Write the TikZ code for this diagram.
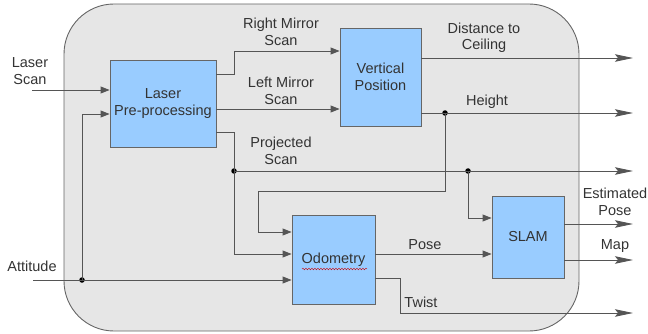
\documentclass[tikz,border=0pt]{standalone}
\usepackage{fontspec}
\setmainfont{Liberation Sans}
\usetikzlibrary{arrows.meta,decorations.pathmorphing}
\definecolor{boxfill}{HTML}{99CCFF}
\definecolor{boxline}{HTML}{666666}
\definecolor{bgfill}{HTML}{E6E6E6}
\definecolor{wire}{HTML}{555555}
\definecolor{txt}{HTML}{333333}
\tikzset{
  blk/.style={draw=boxline, fill=boxfill, line width=0.9pt, align=center, text=txt, font=\fontsize{14.5}{16.5}\selectfont, inner sep=0pt},
  lbl/.style={align=center, text=txt, font=\fontsize{14.5}{16.5}\selectfont, inner sep=0pt},
  wr/.style={draw=wire, line width=0.9pt},
  arr/.style={wr, -{Triangle[length=9pt,width=7pt]}},
  outarr/.style={wr, -{Stealth[length=18pt,width=7.5pt,inset=3pt]}},
  dot/.style={circle, fill=black, inner sep=0pt, minimum size=5.5pt}
}
\begin{document}
\begin{tikzpicture}[x=1pt,y=-1pt]
\useasboundingbox (0,0) rectangle (648,334);
\node[draw=boxline, fill=bgfill, line width=0.9pt, rounded corners=50pt, minimum width=515pt, minimum height=327pt, inner sep=0pt] (bg) at (321.5,167.5) {};

\node[blk, minimum width=106pt, minimum height=87pt] (lp) at (163,103.5) {Laser\\Pre-processing};
\node[blk, minimum width=81pt, minimum height=98pt] (vp) at (380.5,77) {Vertical\\Position};
\node[blk, minimum width=83pt, minimum height=89pt] (odo) at (333.5,259.5) {Odometry};
\node[blk, minimum width=72pt, minimum height=82pt] (slam) at (528,237) {SLAM};
\draw[red!80!black, line width=0.4pt, decorate, decoration={snake, amplitude=0.8pt, segment length=3pt}] (302,269) -- (367,269);

% labels
\node[lbl] (tls) at (30,71) {Laser\\Scan};
\node[lbl] (tatt) at (32,266) {Attitude};
\node[lbl] (trm) at (281,32) {Right Mirror\\Scan};
\node[lbl] (tlm) at (281,91) {Left Mirror\\Scan};
\node[lbl] (tps) at (281,151) {Projected\\Scan};
\node[lbl] (tdc) at (484,38) {Distance to\\Ceiling};
\node[lbl] (th) at (487,102) {Height};
\node[lbl] (tep) at (615,202) {Estimated\\Pose};
\node[lbl] (tmap) at (615,246) {Map};
\node[lbl] (tpose) at (425,245) {Pose};
\node[lbl] (ttw) at (421,302) {Twist};

% coordinates
\coordinate (ls) at (32,90);
\coordinate (att) at (33,280);
\node[dot] (d1) at (82,280) {};
\node[dot] (d2) at (234,171) {};
\node[dot] (d3) at (468,171) {};
\node[dot] (d4) at (445,113) {};
\coordinate (oDC) at (633,58);
\coordinate (oH) at (633,113);
\coordinate (oPS) at (633,171);
\coordinate (oEP) at (633,224);
\coordinate (oM) at (633,260);
\coordinate (oT) at (633,313);

% inputs
\draw[arr] (ls) -- (lp.west |- ls);
\draw[arr] (att) -- (odo.west |- att);
\draw[arr] (d1.center) -- (82,114) -- (lp.west |- 0,114);

% laser outputs
\draw[arr] (lp.east |- 0,74) -- (234,74) -- (234,51) -- (vp.west |- 0,51);
\draw[arr] (lp.east |- 0,109) -- (vp.west |- 0,109);
\draw[arr] (lp.east |- 0,132) -- (234,132) -- (234,254) -- (odo.west |- 0,254);
\draw[outarr] (d2.center) -- (oPS);
\draw[arr] (d3.center) -- (468,218) -- (slam.west |- 0,218);

% vertical position outputs
\draw[outarr] (vp.east |- oDC) -- (oDC);
\draw[outarr] (vp.east |- oH) -- (oH);
\draw[arr] (d4.center) -- (445,191) -- (258,191) -- (258,232) -- (odo.west |- 0,232);

% odometry
\draw[arr] (odo.east |- 0,254) -- (slam.west |- 0,254);
\draw[outarr] (odo.east |- 0,278) -- (400,278) -- (400,313) -- (oT);

% slam
\draw[outarr] (slam.east |- oEP) -- (oEP);
\draw[outarr] (slam.east |- oM) -- (oM);
\end{tikzpicture}
\end{document}
